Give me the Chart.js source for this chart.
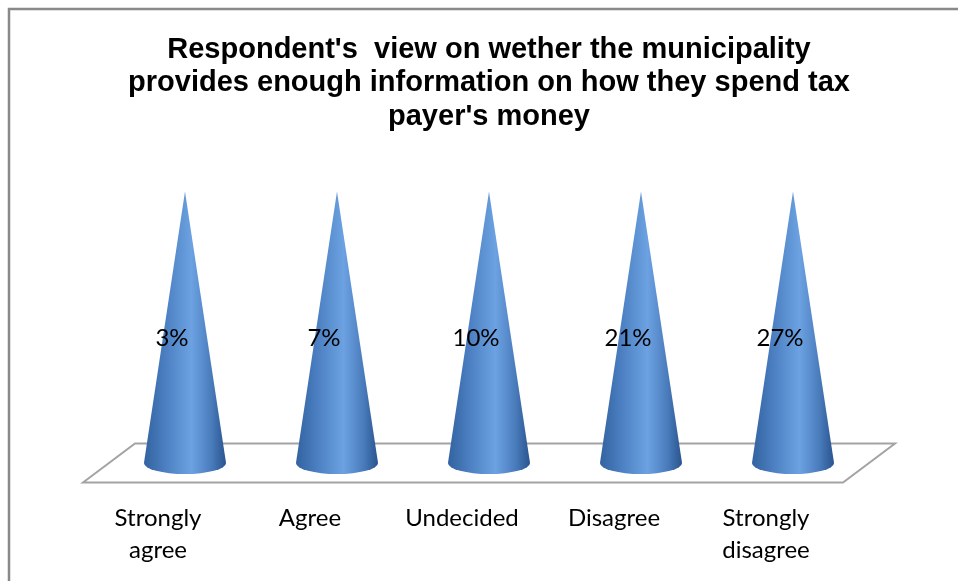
<!DOCTYPE html>
<html lang="en">
<head>
  <meta charset="UTF-8" />
  <title>Municipality information on tax spending</title>
  <script src="https://cdn.jsdelivr.net/npm/chart.js@4"></script>
  <style>
    html, body { margin: 0; padding: 0; background: #fff; }
    #wrap { width: 958px; height: 581px; position: relative; }
  </style>
</head>
<body>
  <div id="wrap"><canvas id="coneChart"></canvas></div>

  <script>
    // Survey answers
    const categories = [['Strongly', 'agree'], 'Agree', 'Undecided', 'Disagree', ['Strongly', 'disagree']];
    const responseShares = [3, 7, 10, 21, 27];
    const titleLines = [
      "Respondent's  view on wether the municipality",
      "provides enough information on how they spend tax",
      "payer's money"
    ];

    // 100% stacked cone: every column is scaled to the total of its own stack
    const series = [responseShares];
    const columnTotals = categories.map((_, i) => series.reduce((s, d) => s + d[i], 0));
    const stacked100 = responseShares.map((v, i) => v / columnTotals[i] * 100);

    const depth = { dx: 26, dy: 19.5 };

    // outer frame of the chart object
    const framePlugin = {
      id: 'frame',
      beforeDraw(chart) {
        const ctx = chart.ctx;
        ctx.save();
        ctx.strokeStyle = '#898989';
        ctx.lineWidth = 2.5;
        ctx.strokeRect(9, 9, chart.width + 20, chart.height + 20);
        ctx.restore();
      }
    };

    // floor plane + cones + data labels
    const conePlugin = {
      id: 'cones',
      afterDatasetsDraw(chart) {
        const ctx = chart.ctx;
        const area = chart.chartArea;
        ctx.save();

        // floor
        ctx.beginPath();
        ctx.moveTo(area.left - depth.dx, area.bottom + depth.dy);
        ctx.lineTo(area.left + depth.dx, area.bottom - depth.dy);
        ctx.lineTo(area.right + depth.dx, area.bottom - depth.dy);
        ctx.lineTo(area.right - depth.dx, area.bottom + depth.dy);
        ctx.closePath();
        ctx.fillStyle = '#ffffff';
        ctx.fill();
        ctx.strokeStyle = '#a3a3a3';
        ctx.lineWidth = 2;
        ctx.stroke();

        const meta = chart.getDatasetMeta(0);
        meta.data.forEach((bar, i) => {
          const rx = bar.width / 2;
          const ry = 11;
          const grad = ctx.createLinearGradient(bar.x - rx, 0, bar.x + rx, 0);
          grad.addColorStop(0, '#33629f');
          grad.addColorStop(0.25, '#4a7ec0');
          grad.addColorStop(0.58, '#6ca2e2');
          grad.addColorStop(0.82, '#4a7cbc');
          grad.addColorStop(1, '#2a548f');

          ctx.beginPath();
          ctx.moveTo(bar.x, bar.y);
          ctx.lineTo(bar.x - rx, bar.base);
          ctx.ellipse(bar.x, bar.base, rx, ry, 0, Math.PI, 0, true);
          ctx.closePath();
          ctx.fillStyle = grad;
          ctx.fill();

          // value label
          ctx.fillStyle = '#000';
          ctx.font = '24px Lato';
          ctx.textAlign = 'center';
          ctx.textBaseline = 'middle';
          ctx.fillText(responseShares[i] + '%', bar.x - depth.dx / 2, (bar.y + bar.base) / 2 + 11);
        });
        ctx.restore();
      }
    };

    new Chart(document.getElementById('coneChart'), {
      type: 'bar',
      data: {
        labels: categories,
        datasets: [{
          label: 'Respondents',
          data: stacked100,
          backgroundColor: 'rgba(0,0,0,0)',
          categoryPercentage: 1,
          barPercentage: 0.54
        }]
      },
      options: {
        responsive: true,
        maintainAspectRatio: false,
        animation: false,
        layout: { padding: { left: 109, right: 89, top: 0, bottom: 0 } },
        plugins: {
          legend: { display: false },
          tooltip: { enabled: false },
          title: {
            display: true,
            text: titleLines,
            color: '#000',
            font: { family: 'Liberation Sans', size: 29, weight: 'bold', lineHeight: 1.155 },
            padding: { top: 33, bottom: 58 }
          }
        },
        scales: {
          x: {
            grid: { display: false },
            border: { display: false },
            ticks: {
              color: '#000',
              font: { family: 'Lato', size: 24, lineHeight: 1.3 },
              padding: 32,
              labelOffset: -27,
              maxRotation: 0,
              autoSkip: false
            },
            afterFit(scale) {
              scale.height = 118;
            }
          },
          y: {
            display: false,
            min: 0,
            max: 100
          }
        }
      },
      plugins: [framePlugin, conePlugin]
    });
  </script>
</body>
</html>
